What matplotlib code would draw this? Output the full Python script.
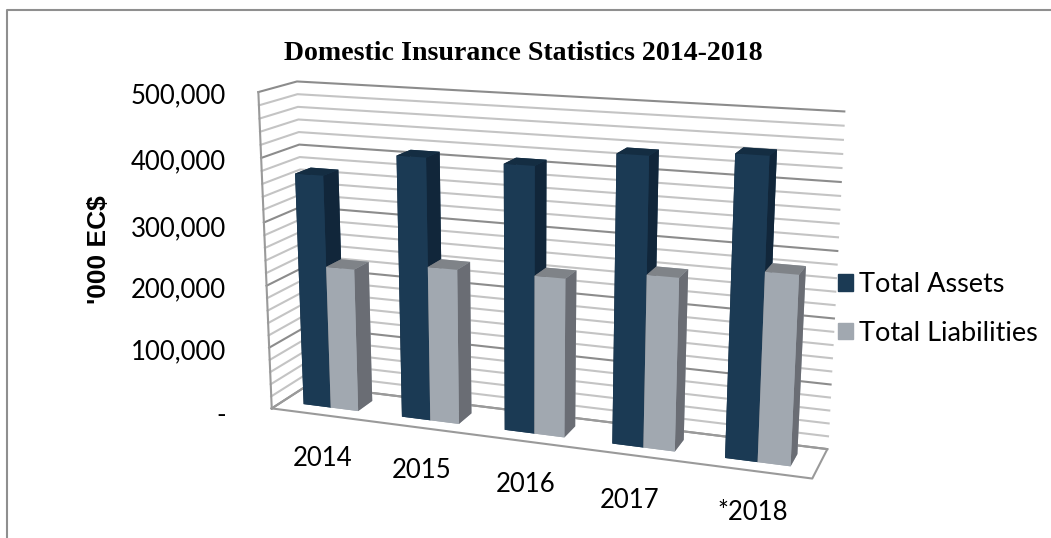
import numpy as np
import matplotlib
matplotlib.use('Agg')
import matplotlib.pyplot as plt
from matplotlib.patches import Patch
from matplotlib.lines import Line2D

W, H = 1051, 538
years = ['2014', '2015', '2016', '2017', '*2018']
total_assets = [372000, 411000, 410000, 436000, 447000]
total_liabilities = [229000, 244000, 246000, 263000, 283000]
major_ticks = [0, 100000, 200000, 300000, 400000, 500000]
tick_labels = ['-', '100,000', '200,000', '300,000', '400,000', '500,000']
minor_step = 20000

fig = plt.figure(figsize=(W/100, H/100), dpi=100)
ax = fig.add_axes([205.31/W, -66.18/H, 652.60/W, 652.60/H], projection='3d', computed_zorder=False)
ax.set_xlim(0, 5, view_margin=0)
ax.set_ylim(0, 1, view_margin=0)
ax.set_zlim(0, 500000, view_margin=0)
ax.view_init(elev=14.609, azim=-70.365, roll=-0.129)
ax.set_box_aspect((1, 0.1425, 0.5860))
ax.set_proj_type('persp', focal_length=0.4551)
ax.set_axis_off()
ax.patch.set_visible(False)

# walls and floor
for v in np.arange(0, 500001, minor_step):
    col = '#8c8c8c' if v in major_ticks else '#c4c4c4'
    ax.plot([0, 0, 5], [0, 1, 1], [v, v, v], color=col, lw=1.5, zorder=1)
line_kw = dict(color='#9a9a9a', lw=1.5, zorder=1)
ax.plot([0, 0], [0, 0], [0, 500000], **line_kw)
ax.plot([0, 5, 5, 0, 0], [0, 0, 1, 1, 0], [0, 0, 0, 0, 0], **line_kw)

assets_faces = ['#1b3a54', '#142d42', '#1b3a54', '#1b3a54', '#11263a', '#11263a']
liab_faces = ['#a1a8b0', '#7f8388', '#a1a8b0', '#a1a8b0', '#6a6d74', '#6a6d74']
z = 2
bar_w = 0.28
for i in range(len(years)):
    ax.bar3d(i+0.22, 0.29, 0, bar_w, 0.42, total_assets[i], color=assets_faces, shade=False, zorder=z)
    ax.bar3d(i+0.22+bar_w, 0.29, 0, bar_w, 0.42, total_liabilities[i], color=liab_faces, shade=False, zorder=z+1)
    z += 2

def txt(x, y, s, **kw):
    fig.text(x/W, 1-y/H, s, ha=kw.pop('ha', 'center'), va='center', **kw)

sans = 'Lato'
txt(523, 54, 'Domestic Insurance Statistics 2014-2018', family='Liberation Serif', weight='bold', fontsize=20.1)
txt(99, 250, "'000 EC$", family='Liberation Sans', weight='bold', fontsize=19, rotation=90)
for lab, yy in zip(tick_labels, [415, 352, 290, 229, 162, 96]):
    txt(226, yy, lab, ha='right', family=sans, fontsize=18.5)
for lab, xx, yy in zip(years, [323, 422, 526, 630, 753], [458, 470, 484, 500, 513]):
    txt(xx, yy, lab, family=sans, fontsize=18.5)

fig.legend(handles=[Patch(color='#1b3a54'), Patch(color='#a1a8b0')],
           labels=['Total Assets', 'Total Liabilities'],
           loc='center left', bbox_to_anchor=(838/W, 1-309/H), frameon=False,
           prop={'family': sans, 'size': 19.5}, handlelength=0.55, handleheight=0.55,
           handletextpad=0.22, labelspacing=0.87, borderpad=0, borderaxespad=0)

# chart frame, the picture cuts it at the bottom and right
fx = np.array([7, 7, 1051])/W
fy = 1-np.array([538, 10, 10])/H
fig.add_artist(Line2D(fx, fy, transform=fig.transFigure, color='#8f8f8f', lw=1.5))
fig.savefig('out.png', dpi=100)
